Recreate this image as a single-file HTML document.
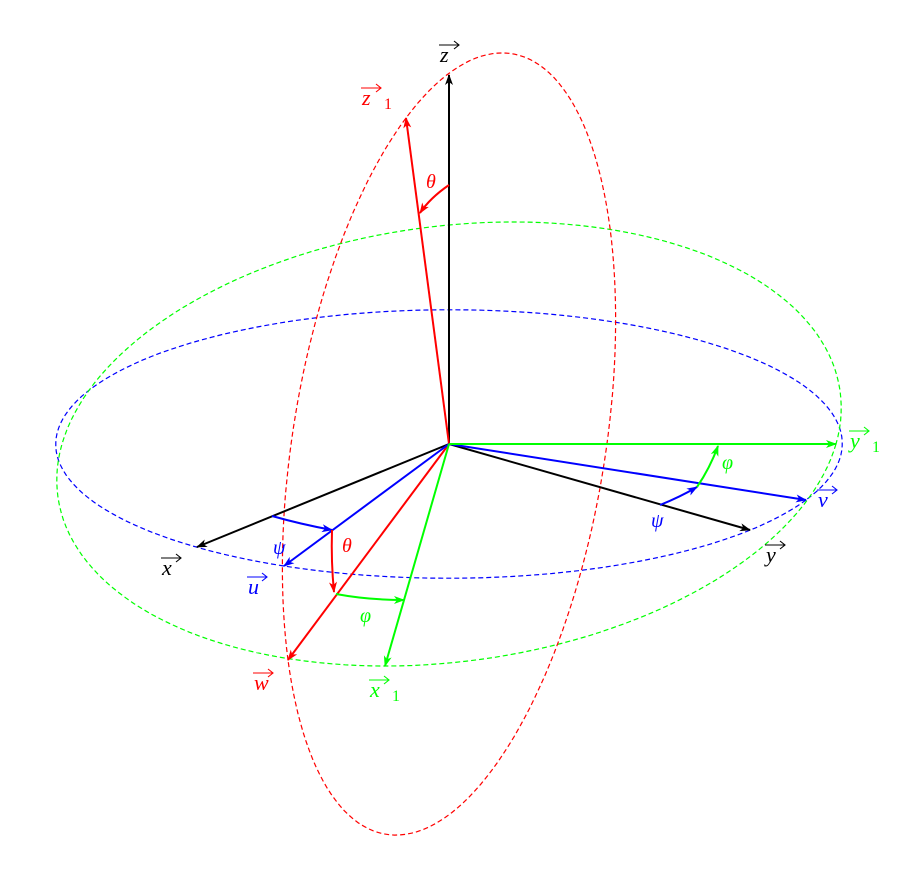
<!DOCTYPE html>
<html><head><meta charset="utf-8"><style>
html,body{margin:0;padding:0;background:#fff;}
svg{display:block;}
text{font-family:"Liberation Serif",serif;font-style:italic;font-size:22px;}
</style></head><body>
<svg width="899" height="889" viewBox="0 0 899 889">
<defs>
<marker id="ak" markerWidth="12" markerHeight="10" refX="10" refY="5" orient="auto" markerUnits="userSpaceOnUse"><path d="M0,1 L11,5 L0,9 L3,5 Z" fill="#000"/></marker>
<marker id="ar" markerWidth="12" markerHeight="10" refX="10" refY="5" orient="auto" markerUnits="userSpaceOnUse"><path d="M0,1 L11,5 L0,9 L3,5 Z" fill="#f00"/></marker>
<marker id="ag" markerWidth="12" markerHeight="10" refX="10" refY="5" orient="auto" markerUnits="userSpaceOnUse"><path d="M0,1 L11,5 L0,9 L3,5 Z" fill="#0f0"/></marker>
<marker id="ab" markerWidth="12" markerHeight="10" refX="10" refY="5" orient="auto" markerUnits="userSpaceOnUse"><path d="M0,1 L11,5 L0,9 L3,5 Z" fill="#00f"/></marker>
</defs>
<g fill="none" stroke-width="1.2" stroke-dasharray="5,3">
<path id="blue-ell" stroke="#00f"/>
<path id="green-ell" stroke="#0f0"/>
<path id="red-ell" stroke="#f00"/>
</g>
<g fill="none" stroke-width="2">
<line x1="449" y1="444" x2="449" y2="75" stroke="#000" marker-end="url(#ak)"/>
<line x1="449" y1="444" x2="197" y2="547" stroke="#000" marker-end="url(#ak)"/>
<line x1="449" y1="444" x2="750" y2="530" stroke="#000" marker-end="url(#ak)"/>
<line x1="449" y1="444" x2="406" y2="118" stroke="#f00" marker-end="url(#ar)"/>
<line x1="449" y1="444" x2="288" y2="660" stroke="#f00" marker-end="url(#ar)"/>
<line x1="449" y1="444" x2="284" y2="566" stroke="#00f" marker-end="url(#ab)"/>
<line x1="449" y1="444" x2="806" y2="500" stroke="#00f" marker-end="url(#ab)"/>
<line x1="449" y1="444" x2="385" y2="666" stroke="#0f0" marker-end="url(#ag)"/>
<line x1="449" y1="444" x2="836" y2="444" stroke="#0f0" marker-end="url(#ag)"/>
<path d="M449,185 Q430,198 420,213" stroke="#f00" marker-end="url(#ar)"/>
<path d="M272,516 Q300,524 332,530" stroke="#00f" marker-end="url(#ab)"/>
<path d="M332,530 Q331,562 334,592" stroke="#f00" marker-end="url(#ar)"/>
<path d="M336,594 Q368,600 404,600" stroke="#0f0" marker-end="url(#ag)"/>
<path d="M660,505 Q680,497 697,487" stroke="#00f" marker-end="url(#ab)"/>
<path d="M697,487 Q710,468 718,446" stroke="#0f0" marker-end="url(#ag)"/>
</g>
<g id="labels"></g>
</svg>
<script>
function ell(id,c,a,b){var d="";for(var i=0;i<=180;i++){var t=i/180*2*Math.PI;var x=c[0]+Math.cos(t)*a[0]+Math.sin(t)*b[0];var y=c[1]+Math.cos(t)*a[1]+Math.sin(t)*b[1];d+=(i?"L":"M")+x.toFixed(1)+","+y.toFixed(1);}document.getElementById(id).setAttribute("d",d+"Z");}
ell("blue-ell",[449,444],[357,56],[-165,122]);
ell("green-ell",[449,444],[387,0],[-64,222]);
ell("red-ell",[449,444],[-161,216],[-43,-326]);
var NS="http://www.w3.org/2000/svg";var g=document.getElementById("labels");
var labs=[["z",440,62,"#000",false,"label-z"],["z",362,105,"#f00",true,"label-z1"],["x",162,575,"#000",false,"label-x"],["y",766,562,"#000",false,"label-y"],["u",248,594,"#00f",false,"label-u"],["v",818,507,"#00f",false,"label-v"],["w",254,690,"#f00",false,"label-w"],["x",370,697,"#0f0",true,"label-x1"],["y",850,448,"#0f0",true,"label-y1"]];
labs.forEach(function(l){
var t=document.createElementNS(NS,"text");t.setAttribute("x",l[1]);t.setAttribute("y",l[2]);t.setAttribute("fill",l[3]);t.textContent=l[0];


g.appendChild(t);
var a=document.createElementNS(NS,"path");var x=l[1]-1,y=l[2]-17;
a.setAttribute("d","M"+x+","+y+" L"+(x+20)+","+y+" M"+(x+15)+","+(y-4)+" L"+(x+20)+","+y+" L"+(x+15)+","+(y+4));
a.setAttribute("stroke",l[3]);a.setAttribute("fill","none");a.setAttribute("stroke-width","1.1");


g.appendChild(a);
if(l[4]){var s=document.createElementNS(NS,"text");s.setAttribute("x",l[1]+22);s.setAttribute("y",l[2]+4);s.setAttribute("fill",l[3]);s.setAttribute("style","font-style:normal;font-size:16px");s.textContent="1";


g.appendChild(s);}
});
var gl=[["θ",426,188,"#f00","theta-top"],["θ",342,552,"#f00","theta-left"],["ψ",273,554,"#00f","psi-left"],["φ",360,622,"#0f0","phi-left"],["ψ",651,527,"#00f","psi-right"],["φ",722,469,"#0f0","phi-right"]];
gl.forEach(function(l){var t=document.createElementNS(NS,"text");t.setAttribute("x",l[1]);t.setAttribute("y",l[2]);t.setAttribute("fill",l[3]);t.setAttribute("style","font-size:20px");t.textContent=l[0];


g.appendChild(t);});
</script>
</body></html>
